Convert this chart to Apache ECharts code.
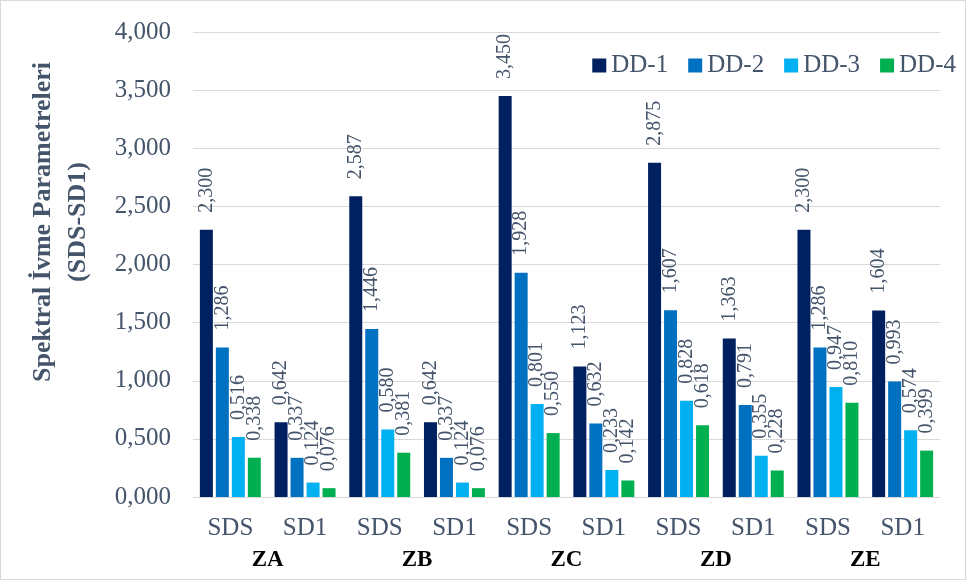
<!DOCTYPE html>
<html>
<head>
<meta charset="utf-8">
<script src="https://cdn.jsdelivr.net/npm/echarts@6/dist/echarts.min.js"></script>
<style>
  html, body { margin: 0; padding: 0; background: #fff; }
  #chart { width: 964px; height: 578px; border: 1px solid #d9d9d9; }
</style>
</head>
<body>
<div id="chart"></div>
<script>
// categories
const zones = ['ZA', 'ZB', 'ZC', 'ZD', 'ZE'];
const params = ['SDS', 'SD1', 'SDS', 'SD1', 'SDS', 'SD1', 'SDS', 'SD1', 'SDS', 'SD1'];
const seriesNames = ['DD-1', 'DD-2', 'DD-3', 'DD-4'];
const yTicks = [0, 0.5, 1, 1.5, 2, 2.5, 3, 3.5, 4];

// values per series (ZA SDS, ZA SD1, ZB SDS, ...)
const dd1 = [2.300, 0.642, 2.587, 0.642, 3.450, 1.123, 2.875, 1.363, 2.300, 1.604];
const dd2 = [1.286, 0.337, 1.446, 0.337, 1.928, 0.632, 1.607, 0.791, 1.286, 0.993];
const dd3 = [0.516, 0.124, 0.580, 0.124, 0.801, 0.233, 0.828, 0.355, 0.947, 0.574];
const dd4 = [0.338, 0.076, 0.381, 0.076, 0.550, 0.142, 0.618, 0.228, 0.810, 0.399];

const colors = ['#002060', '#0070C0', '#00B0F0', '#00B050'];
const textColor = '#44546A';
const font = '"Liberation Serif", "Times New Roman", serif';

// 2.3 -> "2,300"
const fmt = v => Number(v).toFixed(3).replace('.', ',');

const chart = echarts.init(document.getElementById('chart'));

const allData = [dd1, dd2, dd3, dd4];

chart.setOption({
  animation: false,
  textStyle: { fontFamily: font },
  color: colors,
  legend: {
    data: seriesNames,
    right: 4,
    top: 47,
    itemWidth: 14,
    itemHeight: 14,
    itemGap: 20,
    icon: 'rect',
    textStyle: { fontFamily: font, fontSize: 25, color: textColor }
  },
  grid: { left: 192, right: 25, top: 31, bottom: 82 },
  // axis title, placed by hand like the original
  graphic: [{
    type: 'text',
    x: 60,
    y: 221,
    rotation: Math.PI / 2,
    style: {
      text: 'Spektral İvme Parametreleri\n(SDS-SD1)',
      fontFamily: font,
      fontSize: 26,
      fontWeight: 'bold',
      lineHeight: 35,
      fill: textColor,
      align: 'center',
      verticalAlign: 'middle'
    }
  }],
  xAxis: [
    {
      type: 'category',
      data: params,
      axisLine: { lineStyle: { color: '#d9d9d9' } },
      axisTick: { show: false },
      axisLabel: { fontFamily: font, fontSize: 25, color: textColor, margin: 19 }
    },
    {
      type: 'category',
      data: zones,
      position: 'bottom',
      offset: 44,
      axisLine: { show: false },
      axisTick: { show: false },
      axisLabel: { fontFamily: font, fontSize: 23, fontWeight: 'bold', color: '#000', margin: 8 }
    }
  ],
  yAxis: {
    type: 'value',
    min: yTicks[0],
    max: yTicks[yTicks.length - 1],
    interval: 0.5,
    axisLine: { show: false },
    axisTick: { show: false },
    axisLabel: { fontFamily: font, fontSize: 25, color: textColor, margin: 22, formatter: fmt },
    splitLine: { lineStyle: { color: '#d9d9d9', width: 1 } }
  },
  series: seriesNames.map((name, i) => ({
    name: name,
    type: 'bar',
    xAxisIndex: 0,
    data: allData[i],
    barWidth: 13,
    barGap: '23%',
    itemStyle: { color: colors[i] },
    label: {
      show: true,
      position: 'top',
      rotate: 90,
      align: 'left',
      verticalAlign: 'middle',
      distance: 17,
      fontFamily: font,
      fontSize: 20,
      color: textColor,
      formatter: p => fmt(p.value)
    }
  }))
});
</script>
</body>
</html>
